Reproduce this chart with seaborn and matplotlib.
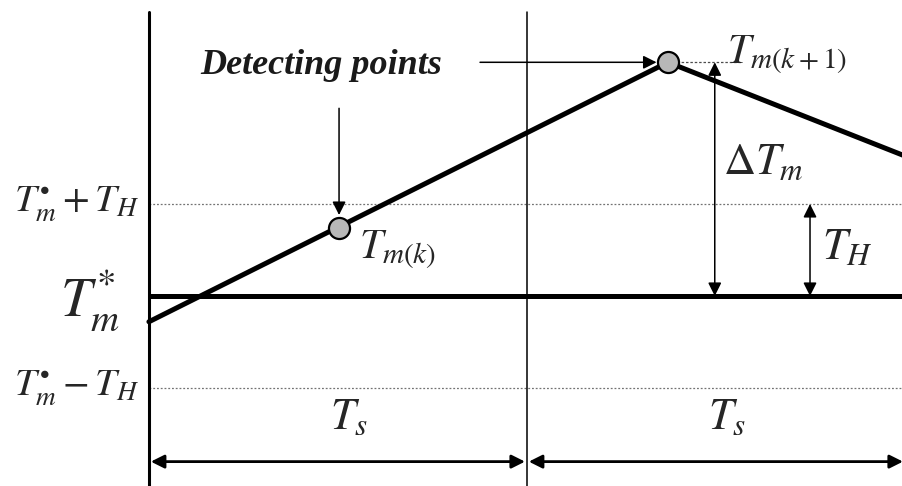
import matplotlib
matplotlib.use("Agg")
import matplotlib.pyplot as plt
import seaborn as sns
import pandas as pd

sns.set_style("white")
plt.rcParams["mathtext.fontset"] = "stix"
plt.rcParams["font.family"] = ["Liberation Serif", "DejaVu Serif"]

# time in units of Ts, temperature in units of TH above Tm*
curve_t = [0.0, 1.373, 1.995]
curve_temp = [-0.28, 2.54, 1.53]
detect_t = [0.503, 1.373]
detect_temp = [0.74, 2.54]
levels = [1, 0, -1]
level_labels = [r"$T_m^{\bullet}+T_H$", r"$T_m^{*}$", r"$T_m^{\bullet}-T_H$"]
period_edges = [0, 1, 2]

curve = pd.DataFrame({"t": curve_t, "temp": curve_temp})
points = pd.DataFrame({"t": detect_t, "temp": detect_temp})

fig = plt.figure(figsize=(9.03, 4.86), dpi=100)
ax = fig.add_axes([0, 0, 1, 1])

# threshold lines
ax.axhline(levels[0], xmin=0.165, color="0.45", lw=0.9, ls=(0, (1.5, 1.5)))
ax.axhline(levels[2], xmin=0.165, color="0.45", lw=0.9, ls=(0, (1.5, 1.5)))
ax.plot([0, 2], [levels[1]] * 2, color="black", lw=3.6, solid_capstyle="butt")

# period boundaries
ax.plot([period_edges[0]] * 2, [-2.1, 3.09], color="black", lw=2.2)
ax.plot([period_edges[1]] * 2, [-2.1, 3.09], color="black", lw=1.1)

# temperature curve and detecting points
sns.lineplot(data=curve, x="t", y="temp", ax=ax, color="black", lw=3.6,
             legend=False)
sns.scatterplot(data=points, x="t", y="temp", ax=ax, s=230, color="0.72",
                edgecolor="black", linewidth=1.6, zorder=5, legend=False)
ax.set_xlim(-0.394, 1.995)
ax.set_ylim(-2.065, 3.217)
ax.axis("off")

arrow = dict(arrowstyle="-|>", color="black", lw=1.1, mutation_scale=20,
             shrinkA=0, shrinkB=0)
both = dict(arrow, arrowstyle="<|-|>")

ax.text(0.455, 2.51, "Detecting points", style="italic", weight="bold",
        fontsize=26, ha="center", va="center", color="0.1")
ax.annotate("", xy=(detect_t[1] - 0.03, detect_temp[1]), xytext=(0.876, detect_temp[1]),
            arrowprops=arrow)
ax.annotate("", xy=(detect_t[0], detect_temp[0] + 0.14), xytext=(detect_t[0], 2.04),
            arrowprops=arrow)

# labels on points
ax.text(0.555, 0.50, r"$T_{m(k)}$", fontsize=30, ha="left", va="center")
ax.plot([detect_t[1], 1.57], [detect_temp[1]] * 2, color="0.3", lw=0.9,
        ls=(0, (2, 1.5)))
ax.text(1.53, 2.62, r"$T_{m(k+1)}$", fontsize=30, ha="left", va="center")

# delta Tm and TH arrows
ax.annotate("", xy=(1.497, levels[1]), xytext=(1.497, detect_temp[1]),
            arrowprops=both)
ax.text(1.52, 1.45, r"$\Delta T_m$", fontsize=32, ha="left", va="center")
ax.annotate("", xy=(1.749, levels[1]), xytext=(1.749, levels[0]),
            arrowprops=both)
ax.text(1.78, 0.52, r"$T_H$", fontsize=32, ha="left", va="center")

# left level labels
ax.text(-0.19, levels[0], level_labels[0], fontsize=28, ha="center", va="center")
ax.text(-0.155, levels[1] - 0.05, level_labels[1], fontsize=40, ha="center", va="center")
ax.text(-0.19, levels[2], level_labels[2], fontsize=28, ha="center", va="center")

# sampling period arrows
for a, b in zip(period_edges[:-1], period_edges[1:]):
    ax.annotate("", xy=(b - 0.005, -1.80), xytext=(a + 0.005, -1.80),
                arrowprops=dict(both, lw=2.0))
    ax.text((a + b) / 2 + 0.03, -1.33, r"$T_s$", fontsize=32, ha="center",
            va="center")

fig.savefig("out.png", dpi=100)
